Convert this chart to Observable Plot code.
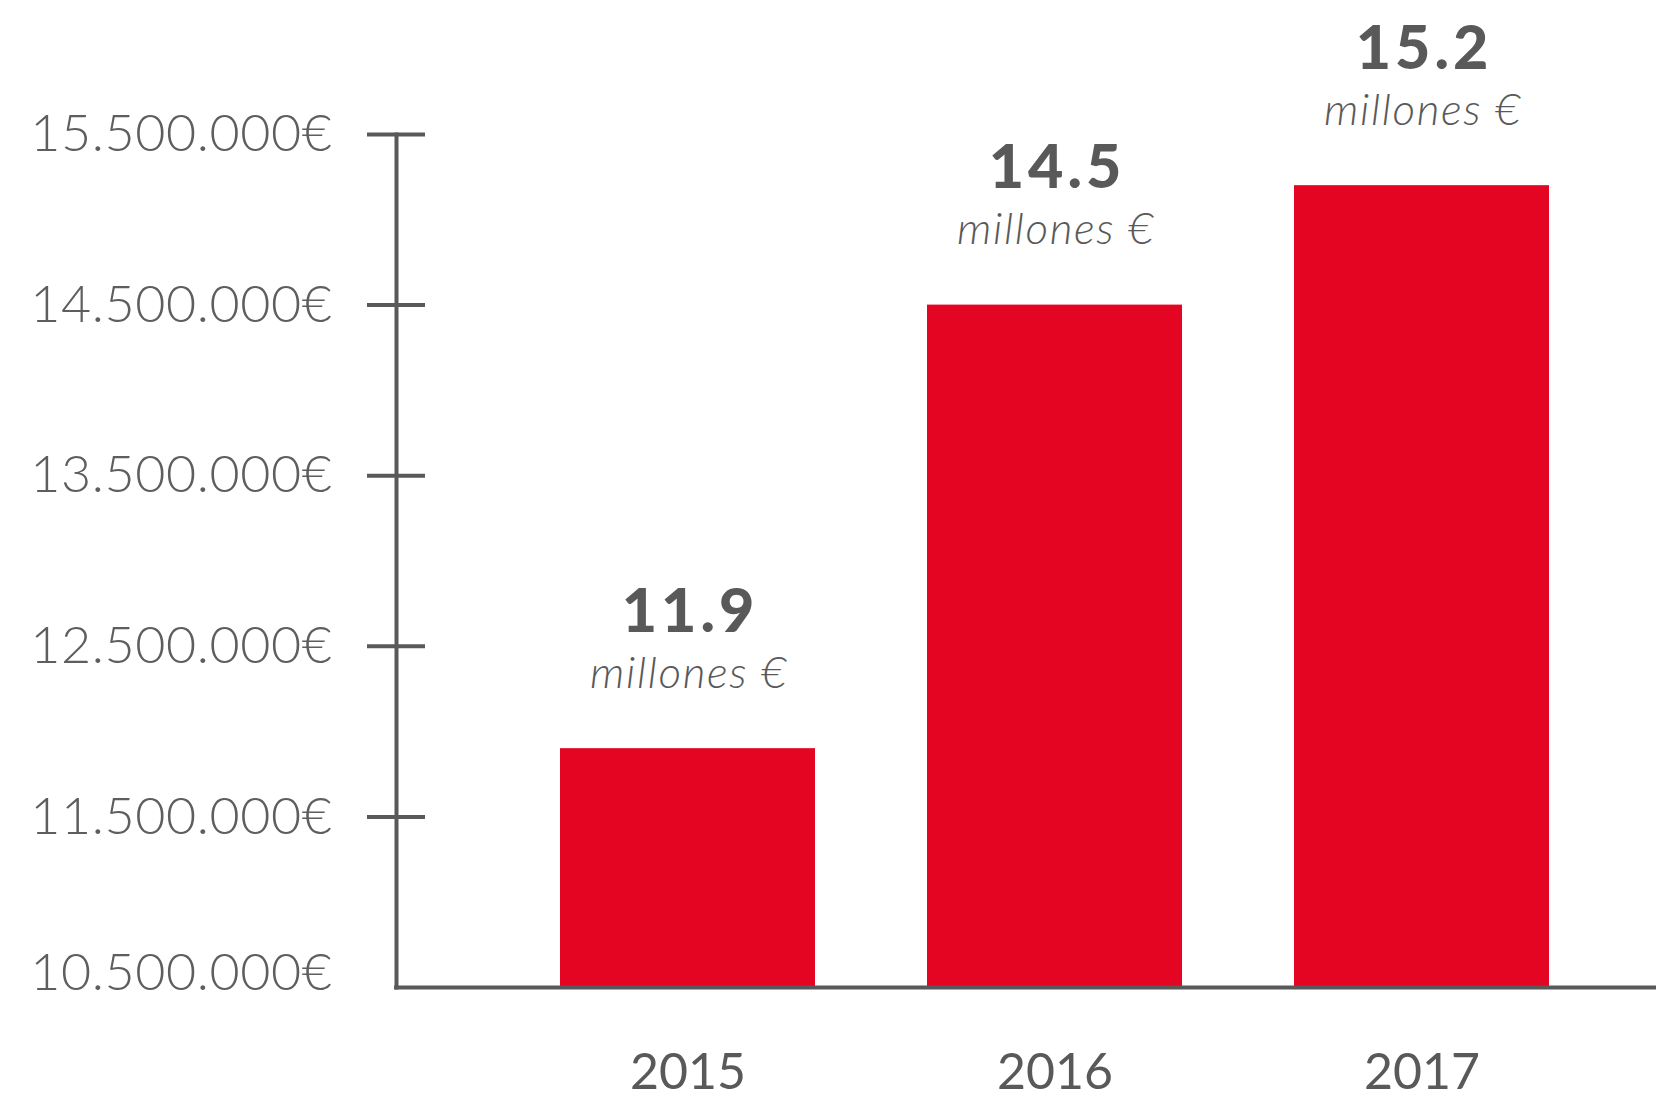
<!DOCTYPE html>
<html>
<head>
<meta charset="utf-8">
<script src="https://cdn.jsdelivr.net/npm/d3@7"></script>
<script src="https://cdn.jsdelivr.net/npm/@observablehq/plot@0.6"></script>
<style>
  html, body { margin: 0; padding: 0; background: #fff; overflow: hidden; }
  #chart svg { display: block; }
  #chart g[font-weight="900"] text { letter-spacing: 4px; }
  #chart g[font-style="italic"] text { letter-spacing: 1.6px; }
  #chart g[font-size="52"] text { letter-spacing: 0.6px; }
</style>
</head>
<body>
<div id="chart"></div>
<script>
// Data
const years = ["2015", "2016", "2017"];
const values = [11900000, 14500000, 15200000];
const yTicks = [11500000, 12500000, 13500000, 14500000, 15500000];
const yBaseTick = [10500000];
const unitLabel = "millones €";

const data = years.map((year, i) => ({year, value: values[i]}));

const es = d3.formatLocale({decimal: ",", thousands: ".", grouping: [3], currency: ["", "€"]});
const euro = es.format("$,");

const gray = "#595959";
const red = "#e30521";

const chart = Plot.plot({
  width: 1656,
  height: 1099,
  marginLeft: 396,
  marginRight: 0,
  marginTop: 134,
  marginBottom: 112,
  style: {fontFamily: "Lato, sans-serif", background: "#fff", overflow: "visible"},
  x: {type: "band", domain: years, range: [560, 1549.5], paddingInner: 0.305, paddingOuter: 0, axis: null, label: null},
  y: {domain: [10500000, 15500000], axis: null, label: null},
  marks: [
    Plot.barY(data, {x: "year", y1: 10500000, y2: "value", fill: red}),
    // y axis line
    Plot.frame({anchor: "left", stroke: gray, strokeWidth: 4}),
    // y ticks (extending both sides of axis)
    Plot.ruleY(yTicks, {stroke: gray, strokeWidth: 4, insetLeft: -29, insetRight: 1656 - 425}),
    // baseline
    Plot.ruleY(yBaseTick, {stroke: gray, strokeWidth: 4, insetLeft: -2}),
    // y tick labels
    Plot.axisY({ticks: yTicks, tickSize: 0, tickPadding: 64, tickFormat: euro, label: null,
      fontSize: 52, fontWeight: 300, fill: "#5e5e5e"}),
    Plot.axisY({ticks: yBaseTick, tickSize: 0, tickPadding: 64, tickFormat: euro, label: null,
      fontSize: 52, fontWeight: 300, fill: "#5e5e5e", dy: -14}),
    // x labels
    Plot.axisX({tickSize: 0, tickPadding: 66, label: null, fontSize: 50, fontWeight: 400, fill: gray}),
    // value labels
    Plot.text(data, {x: "year", y: "value", text: d => (d.value / 1e6).toFixed(1),
      lineAnchor: "bottom", dy: -117, dx: 2, fontSize: 61, fontWeight: 900, fill: gray}),
    Plot.text(data, {x: "year", y: "value", text: () => unitLabel,
      lineAnchor: "bottom", dy: -61, dx: 1, fontSize: 44, fontWeight: 300, fontStyle: "italic", fill: gray})
  ]
});

document.getElementById("chart").appendChild(chart);
</script>
</body>
</html>
